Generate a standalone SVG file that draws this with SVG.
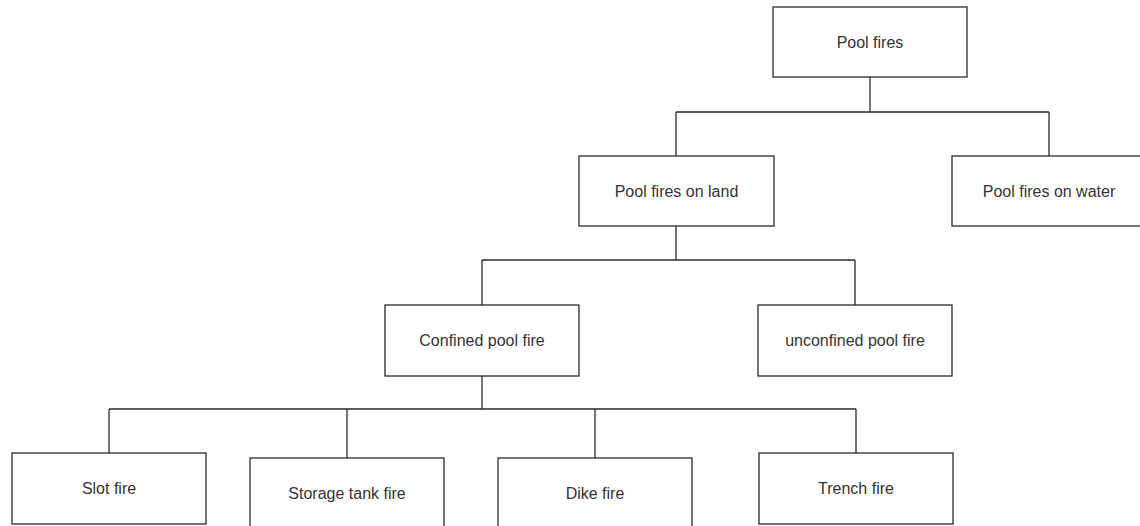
<svg xmlns="http://www.w3.org/2000/svg" width="1140" height="526" viewBox="0 0 1140 526">
<style>
.box{fill:#fff;stroke:#2a2a2a;stroke-width:1.3}
.lbl{font-family:"Liberation Sans",Arial,sans-serif;font-size:16px;fill:#333;text-anchor:middle}
.conn{fill:none;stroke:#2a2a2a;stroke-width:1.3}
</style>
<rect width="1140" height="526" fill="#fff"/>
<g id="connectors" class="conn">
<path d="M870,77 V112 M676,112 H1049 M676,112 V156 M1049,112 V156"/>
<path d="M676,226 V260 M482,260 H855 M482,260 V305 M855,260 V305"/>
<path d="M482,376 V409 M109,409 H856 M109,409 V453 M347,409 V458 M595,409 V460 M856,409 V453"/>
</g>
<g id="pool-fires"><rect class="box" x="773" y="7" width="194" height="70"/><text class="lbl" x="870" y="47.5">Pool fires</text></g>
<g id="on-land"><rect class="box" x="579" y="156" width="195" height="70"/><text class="lbl" x="676.5" y="196.5">Pool fires on land</text></g>
<g id="on-water"><rect class="box" x="952" y="156" width="194" height="70"/><text class="lbl" x="1049" y="196.5">Pool fires on water</text></g>
<g id="confined"><rect class="box" x="385" y="305" width="194" height="71"/><text class="lbl" x="482" y="346">Confined pool fire</text></g>
<g id="unconfined"><rect class="box" x="758" y="305" width="194" height="71"/><text class="lbl" x="855" y="346">unconfined pool fire</text></g>
<g id="slot"><rect class="box" x="12" y="453" width="194" height="71"/><text class="lbl" x="109" y="494">Slot fire</text></g>
<g id="storage"><rect class="box" x="250" y="458" width="194" height="72"/><text class="lbl" x="347" y="499">Storage tank fire</text></g>
<g id="dike"><rect class="box" x="498" y="458" width="194" height="72"/><text class="lbl" x="595" y="499">Dike fire</text></g>
<g id="trench"><rect class="box" x="759" y="453" width="194" height="71"/><text class="lbl" x="856" y="494">Trench fire</text></g>
</svg>
